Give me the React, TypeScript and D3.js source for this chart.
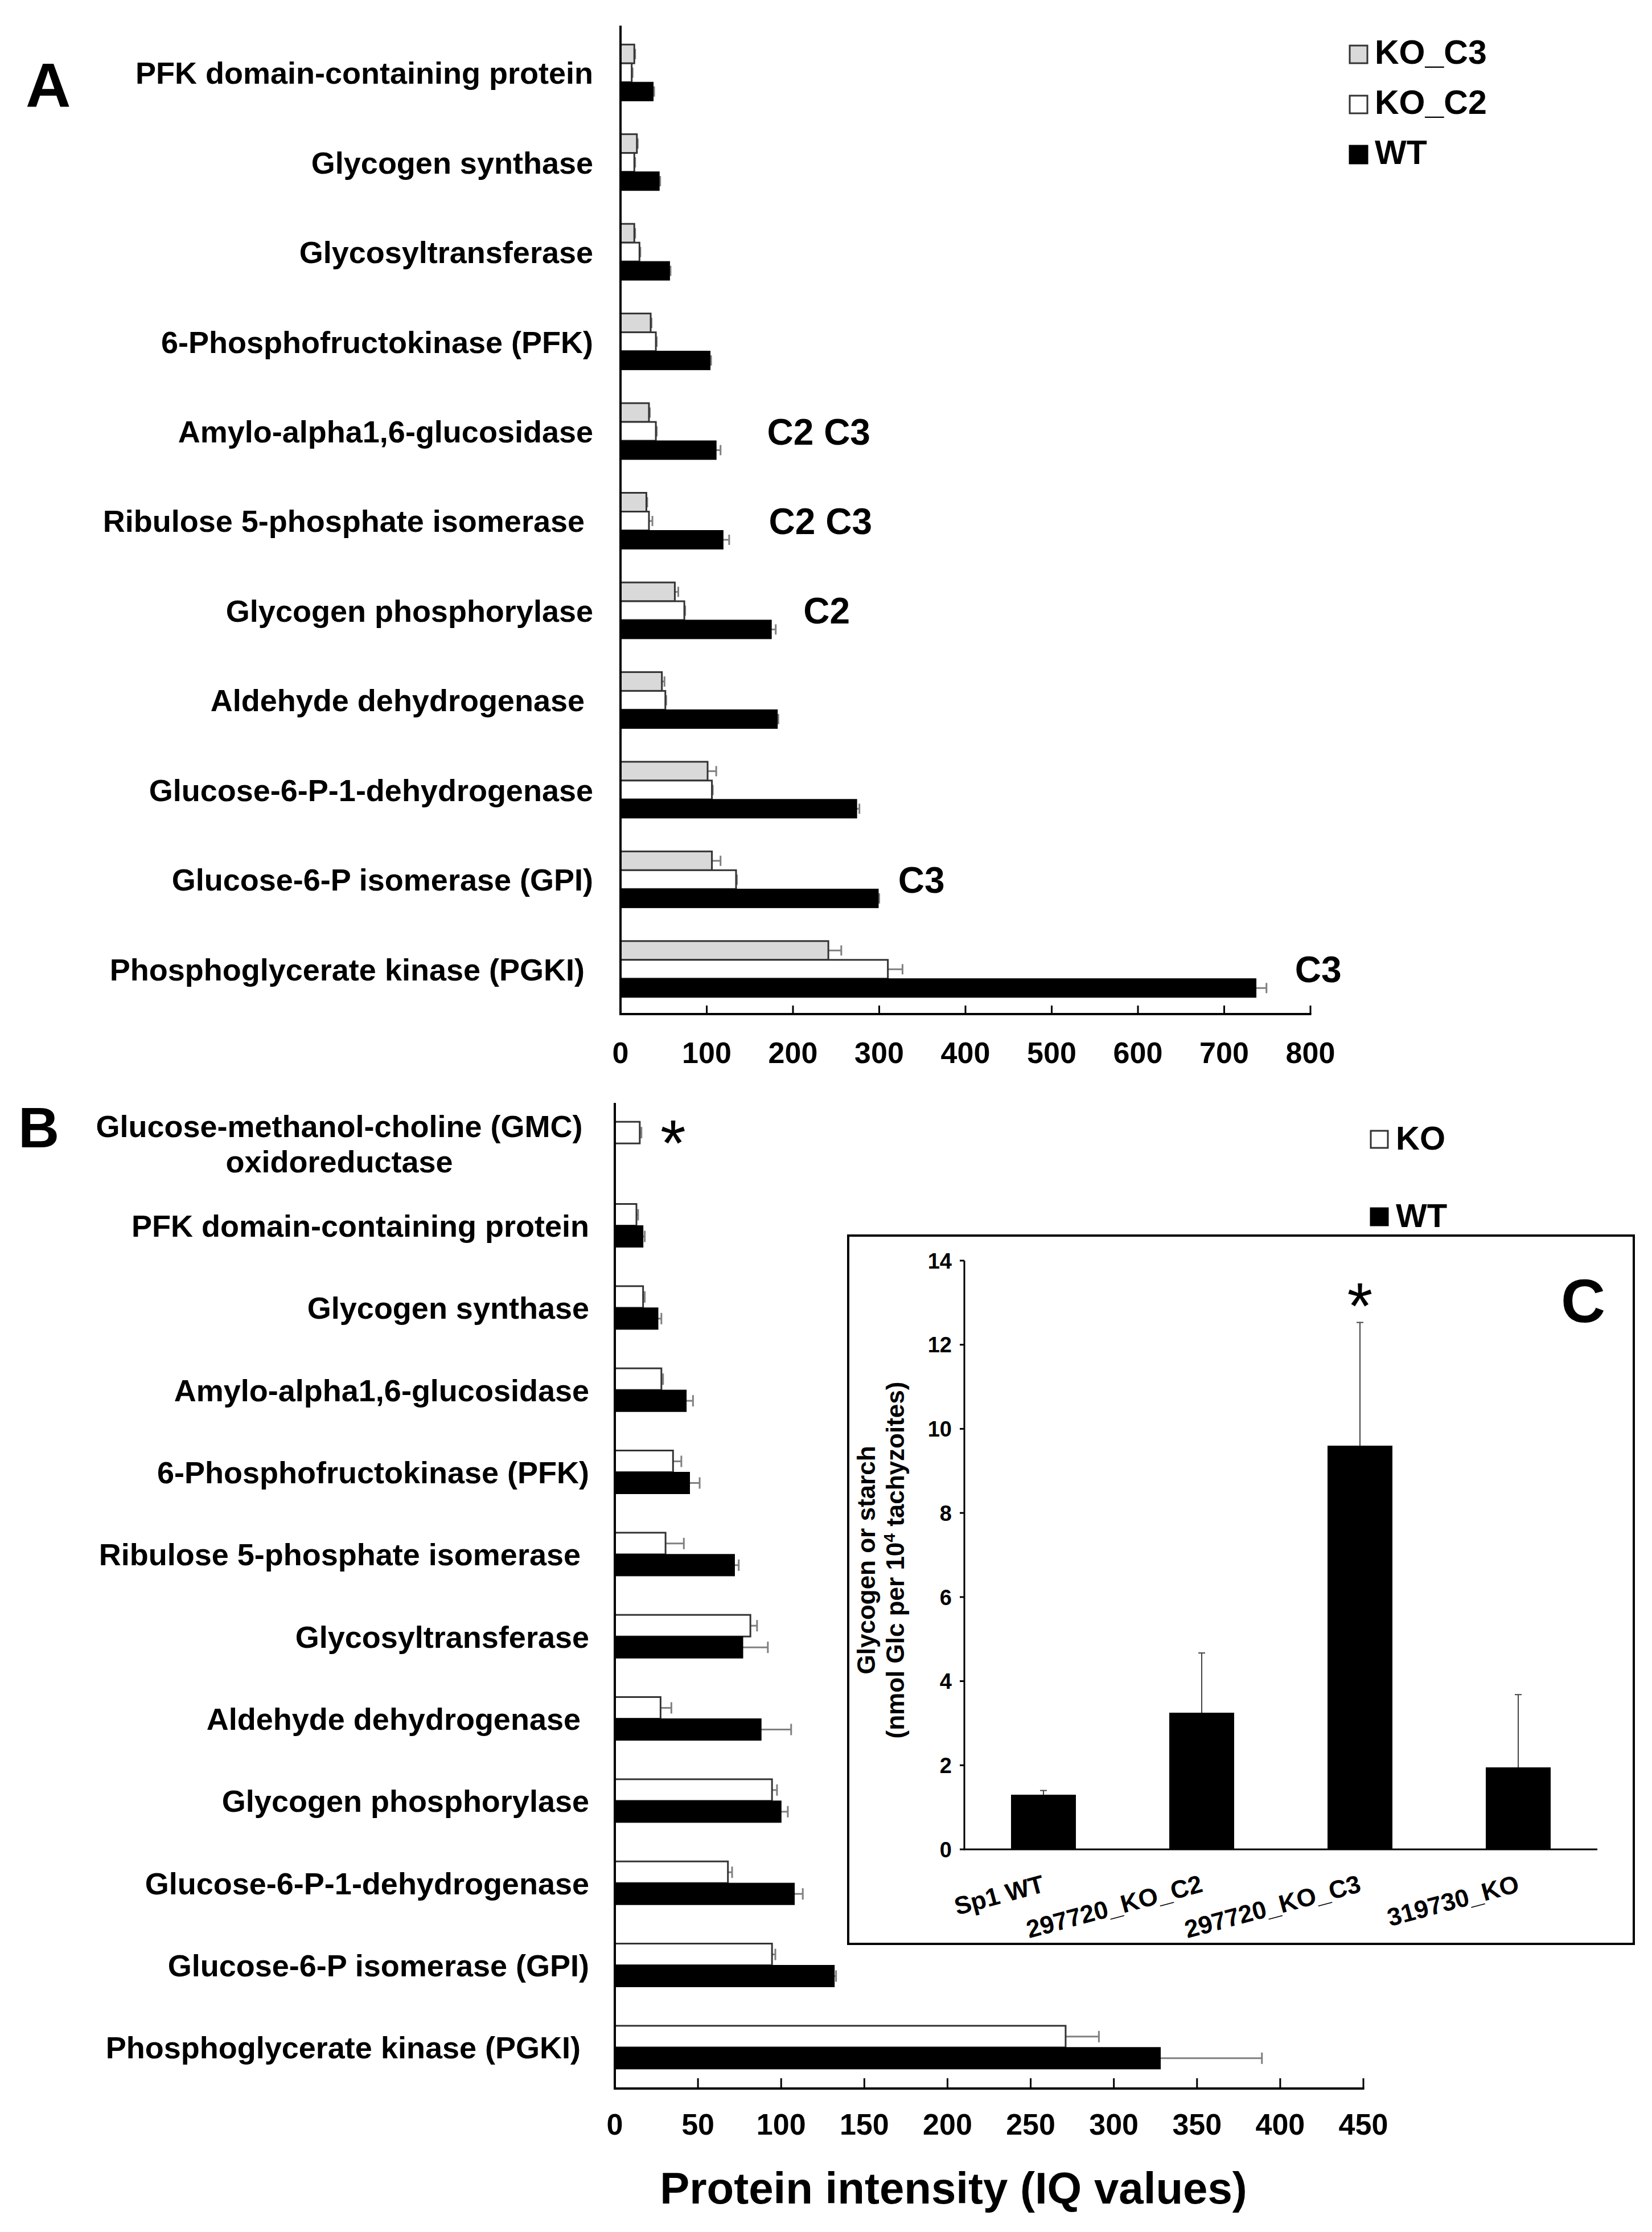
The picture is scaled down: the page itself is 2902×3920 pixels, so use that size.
import React from 'react';
import * as d3 from 'd3';

const FONT = '"Liberation Sans", Arial, Helvetica, sans-serif';

// ---------- Panel A ----------
const categoriesA = [
  'PFK domain-containing protein',
  'Glycogen synthase',
  'Glycosyltransferase',
  '6-Phosphofructokinase (PFK)',
  'Amylo-alpha1,6-glucosidase',
  'Ribulose 5-phosphate isomerase ',
  'Glycogen phosphorylase',
  'Aldehyde dehydrogenase ',
  'Glucose-6-P-1-dehydrogenase',
  'Glucose-6-P isomerase (GPI)',
  'Phosphoglycerate kinase (PGKI) ',
];
const seriesA = ['KO_C3', 'KO_C2', 'WT'];
const koC3A = [16, 19, 16, 35, 33, 30, 63, 48, 101, 106, 241];
const koC2A = [13, 16, 22, 41, 41, 33, 74, 52, 106, 134, 310];
const wtA = [38, 45, 57, 104, 111, 119, 175, 182, 274, 299, 737];
const koC3ErrA = [1, 1, 1, 1, 1, 1, 4, 3, 10, 10, 15];
const koC2ErrA = [1, 1, 1, 1, 1, 4, 1, 1, 1, 1, 17];
const wtErrA = [1, 1, 1, 1, 5, 7, 5, 1, 3, 1, 12];
const ticksA = [0, 100, 200, 300, 400, 500, 600, 700, 800];
const annotationsA = [
  { index: 4, text: 'C2 C3', value: 170 },
  { index: 5, text: 'C2 C3', value: 172 },
  { index: 6, text: 'C2', value: 212 },
  { index: 9, text: 'C3', value: 322 },
  { index: 10, text: 'C3', value: 782 },
];

// ---------- Panel B ----------
const categoriesB = [
  'Glucose-methanol-choline (GMC)\noxidoreductase',
  'PFK domain-containing protein',
  'Glycogen synthase',
  'Amylo-alpha1,6-glucosidase',
  '6-Phosphofructokinase (PFK)',
  'Ribulose 5-phosphate isomerase ',
  'Glycosyltransferase',
  'Aldehyde dehydrogenase ',
  'Glycogen phosphorylase',
  'Glucose-6-P-1-dehydrogenase',
  'Glucose-6-P isomerase (GPI)',
  'Phosphoglycerate kinase (PGKI) ',
];
const seriesB = ['KO', 'WT'];
const koB = [15, 13, 17, 28, 35, 30.5, 81.5, 27.5, 94.5, 68, 94.5, 271];
const wtB = [0, 17, 26, 43, 45, 72, 77, 88, 100, 108, 132, 328];
const koErrB = [1, 1, 1, 1, 5, 11, 4, 6.5, 3, 2.5, 2, 20];
const wtErrB = [0, 1, 2, 4, 6, 2.5, 15, 18, 4, 5, 1, 61];
const ticksB = [0, 50, 100, 150, 200, 250, 300, 350, 400, 450];
const starIndexB = 0;
const starValueB = 35;

// ---------- Panel C ----------
const categoriesC = ['Sp1 WT', '297720_KO_C2', '297720_KO_C3', '319730_KO'];
const valuesC = [1.3, 3.25, 9.6, 1.95];
const errorsC = [0.1, 1.42, 2.93, 1.73];
const ticksC = [0, 2, 4, 6, 8, 10, 12, 14];
const starIndexC = 2;

const GRAY = '#d9d9d9';
const OUTLINE = '#333333';
const ERR = '#808080';

export default function App() {
  const W = 2902;
  const H = 3920;

  // Panel A scales
  const xA = d3.scaleLinear().domain([0, 800]).range([1090, 2302]);
  const yA = d3
    .scaleBand<number>()
    .domain(d3.range(categoriesA.length))
    .range([49, 1781])
    .padding(0);
  const subA = d3.scaleBand<string>().domain(seriesA).range([-49.5, 49.5]);
  const valsA: Record<string, number[]> = { KO_C3: koC3A, KO_C2: koC2A, WT: wtA };
  const errsA: Record<string, number[]> = { KO_C3: koC3ErrA, KO_C2: koC2ErrA, WT: wtErrA };
  const fillA: Record<string, string> = { KO_C3: GRAY, KO_C2: '#ffffff', WT: '#000000' };
  const axisYA = yA.range()[1];

  // Panel B scales
  const xB = d3.scaleLinear().domain([0, 450]).range([1080, 2395]);
  const yB = d3
    .scaleBand<number>()
    .domain(d3.range(categoriesB.length))
    .range([1936, 3668])
    .padding(0);
  const subB = d3.scaleBand<string>().domain(seriesB).range([-38, 38]);
  const valsB: Record<string, number[]> = { KO: koB, WT: wtB };
  const errsB: Record<string, number[]> = { KO: koErrB, WT: wtErrB };
  const fillB: Record<string, string> = { KO: '#ffffff', WT: '#000000' };
  const axisYB = yB.range()[1];

  // Panel C scales
  const xC = d3.scaleBand<string>().domain(categoriesC).range([1694, 2806]).paddingInner(0.59).paddingOuter(0.295);
  const yC = d3.scaleLinear().domain([0, 14]).range([3248, 2214]);

  const labelRightA = xA(0) - 48;
  const labelRightB = xB(0) - 45;

  const bold = { fontFamily: FONT, fontWeight: 700 as const, style: { whiteSpace: 'pre' as const } };

  return (
    <svg
      width={W}
      height={H}
      viewBox={`0 0 ${W} ${H}`}
      style={{ position: 'absolute', left: 0, top: 0, display: 'block', background: '#fff' }}
    >
      <rect x={0} y={0} width={W} height={H} fill="#fff" />

      {/* ================= Panel A ================= */}
      <text x={45} y={187} fontSize={110} {...bold}>A</text>

      {categoriesA.map((c, i) => (
        <text
          key={'la' + i}
          x={labelRightA}
          y={(yA(i) as number) + yA.bandwidth() / 2}
          dy="0.36em"
          textAnchor="end"
          fontSize={54}
          {...bold}
        >
          {c}
        </text>
      ))}

      {seriesA.map((s) =>
        valsA[s].map((v, i) => {
          const cy = (yA(i) as number) + yA.bandwidth() / 2;
          const y0 = cy + (subA(s) as number);
          const h = subA.bandwidth();
          const x1 = xA(v);
          const xe = xA(v + errsA[s][i]);
          return (
            <g key={'ba' + s + i}>
              <line x1={x1} x2={xe} y1={y0 + h / 2} y2={y0 + h / 2} stroke={ERR} strokeWidth={3} />
              <line x1={xe} x2={xe} y1={y0 + h / 2 - 9} y2={y0 + h / 2 + 9} stroke={ERR} strokeWidth={3} />
              <rect
                x={xA(0)}
                y={y0}
                width={x1 - xA(0)}
                height={h}
                fill={fillA[s]}
                stroke={s === 'WT' ? '#000' : OUTLINE}
                strokeWidth={s === 'WT' ? 1 : 3}
              />
            </g>
          );
        })
      )}

      {annotationsA.map((a, k) => (
        <text
          key={'an' + k}
          x={xA(a.value)}
          y={(yA(a.index) as number) + yA.bandwidth() / 2}
          dy="0.36em"
          fontSize={64}
          {...bold}
        >
          {a.text}
        </text>
      ))}

      {/* axes A */}
      <line x1={xA(0)} x2={xA(0)} y1={45} y2={axisYA + 2} stroke="#000" strokeWidth={4} />
      <line x1={xA(0) - 2} x2={xA(800) + 1.5} y1={axisYA} y2={axisYA} stroke="#000" strokeWidth={4} />
      {ticksA.map((t) => (
        <g key={'ta' + t}>
          {t > 0 && <line x1={xA(t)} x2={xA(t)} y1={axisYA} y2={axisYA - 15} stroke="#000" strokeWidth={3} />}
          <text x={xA(t)} y={1867} textAnchor="middle" fontSize={52} {...bold}>
            {t}
          </text>
        </g>
      ))}

      {/* legend A */}
      {seriesA.map((s, k) => {
        const base = 112 + k * 88;
        return (
          <g key={'lgA' + s}>
            <rect x={2371} y={base - 32} width={31} height={31} fill={fillA[s]} stroke={s === 'WT' ? '#000' : OUTLINE} strokeWidth={3} />
            <text x={2415} y={base} fontSize={59} {...bold}>
              {s}
            </text>
          </g>
        );
      })}

      {/* ================= Panel B ================= */}
      <text x={32} y={2015} fontSize={100} {...bold}>B</text>

      {categoriesB.map((c, i) => {
        const cy = (yB(i) as number) + yB.bandwidth() / 2;
        const lines = c.split('\n');
        if (lines.length > 1) {
          return (
            <text key={'lb' + i} x={labelRightB - 439} y={cy - 31} textAnchor="middle" fontSize={54} {...bold}>
              {lines.map((ln, j) => (
                <tspan key={j} x={labelRightB - 439} dy={j === 0 ? '0.36em' : 62}>
                  {ln}
                </tspan>
              ))}
            </text>
          );
        }
        return (
          <text key={'lb' + i} x={labelRightB} y={cy} dy="0.36em" textAnchor="end" fontSize={54} {...bold}>
            {c}
          </text>
        );
      })}

      {seriesB.map((s) =>
        valsB[s].map((v, i) => {
          if (v <= 0) return null;
          const cy = (yB(i) as number) + yB.bandwidth() / 2;
          const y0 = cy + (subB(s) as number);
          const h = subB.bandwidth();
          const x1 = xB(v);
          const xe = xB(v + errsB[s][i]);
          return (
            <g key={'bb' + s + i}>
              <line x1={x1} x2={xe} y1={y0 + h / 2} y2={y0 + h / 2} stroke={ERR} strokeWidth={3} />
              <line x1={xe} x2={xe} y1={y0 + h / 2 - 10} y2={y0 + h / 2 + 10} stroke={ERR} strokeWidth={3} />
              <rect
                x={xB(0)}
                y={y0}
                width={x1 - xB(0)}
                height={h}
                fill={fillB[s]}
                stroke={s === 'WT' ? '#000' : OUTLINE}
                strokeWidth={s === 'WT' ? 1 : 3}
              />
            </g>
          );
        })
      )}

      <text
        x={xB(starValueB)}
        y={(yB(starIndexB) as number) + yB.bandwidth() / 2 - 28}
        dy="0.58em"
        textAnchor="middle"
        fontSize={115}
        fontFamily={FONT}
      >
        *
      </text>

      {/* axes B */}
      <line x1={xB(0)} x2={xB(0)} y1={1937} y2={axisYB + 2} stroke="#000" strokeWidth={4} />
      <line x1={xB(0) - 2} x2={xB(450) + 1.5} y1={axisYB} y2={axisYB} stroke="#000" strokeWidth={4} />
      {ticksB.map((t) => (
        <g key={'tb' + t}>
          {t > 0 && <line x1={xB(t)} x2={xB(t)} y1={axisYB} y2={axisYB - 18} stroke="#000" strokeWidth={3} />}
          <text x={xB(t)} y={3749} textAnchor="middle" fontSize={52} {...bold}>
            {t}
          </text>
        </g>
      ))}
      <text x={1675} y={3870} textAnchor="middle" fontSize={78} {...bold}>
        Protein intensity (IQ values)
      </text>

      {/* legend B */}
      {seriesB.map((s, k) => {
        const base = 2017 + k * 136;
        return (
          <g key={'lgB' + s}>
            <rect x={2408} y={base - 31} width={30} height={30} fill={fillB[s]} stroke={s === 'WT' ? '#000' : OUTLINE} strokeWidth={3} />
            <text x={2452} y={base + 2} fontSize={58} {...bold}>
              {s}
            </text>
          </g>
        );
      })}

      {/* ================= Panel C (inset) ================= */}
      <rect x={1490} y={2170} width={1380} height={1244} fill="#fff" stroke="#000" strokeWidth={4} />
      <text x={2781} y={2283} dy="0.36em" textAnchor="middle" fontSize={108} {...bold}>C</text>

      {categoriesC.map((c, i) => {
        const x0 = xC(c) as number;
        const bw = xC.bandwidth();
        const v = valuesC[i];
        const cx = x0 + bw / 2;
        const ye = yC(v + errorsC[i]);
        return (
          <g key={'bc' + i}>
            <line x1={cx} x2={cx} y1={yC(v)} y2={ye} stroke="#444" strokeWidth={2} />
            <line x1={cx - 6} x2={cx + 6} y1={ye} y2={ye} stroke="#444" strokeWidth={2} />
            <rect x={x0} y={yC(v)} width={bw} height={yC(0) - yC(v)} fill="#000" />
            <text
              transform={`translate(${cx + 4},${3322}) rotate(-15)`}
              textAnchor="end"
              fontSize={44}
              {...bold}
            >
              {c}
            </text>
          </g>
        );
      })}

      <text
        x={(xC(categoriesC[starIndexC]) as number) + xC.bandwidth() / 2}
        y={yC(valuesC[starIndexC] + errorsC[starIndexC]) - 56}
        dy="0.58em"
        textAnchor="middle"
        fontSize={115}
        fontFamily={FONT}
      >
        *
      </text>

      {/* axes C */}
      <line x1={1694} x2={1694} y1={yC(14)} y2={yC(0) + 1.5} stroke="#000" strokeWidth={3} />
      <line x1={1694} x2={2806} y1={yC(0)} y2={yC(0)} stroke="#000" strokeWidth={3} />
      {ticksC.map((t) => (
        <g key={'tc' + t}>
          <line x1={1686} x2={1694} y1={yC(t)} y2={yC(t)} stroke="#000" strokeWidth={3} />
          <text x={1672} y={yC(t)} dy="0.36em" textAnchor="end" fontSize={38} {...bold}>
            {t}
          </text>
        </g>
      ))}

      <text transform="translate(1537,2740) rotate(-90)" textAnchor="middle" fontSize={44} {...bold}>
        Glycogen or starch
      </text>
      <text transform="translate(1588,2740) rotate(-90)" textAnchor="middle" fontSize={44} {...bold}>
        (nmol Glc per 10
        <tspan fontSize={28} dy={-16}>4</tspan>
        <tspan dy={16}> tachyzoites)</tspan>
      </text>
    </svg>
  );
}
